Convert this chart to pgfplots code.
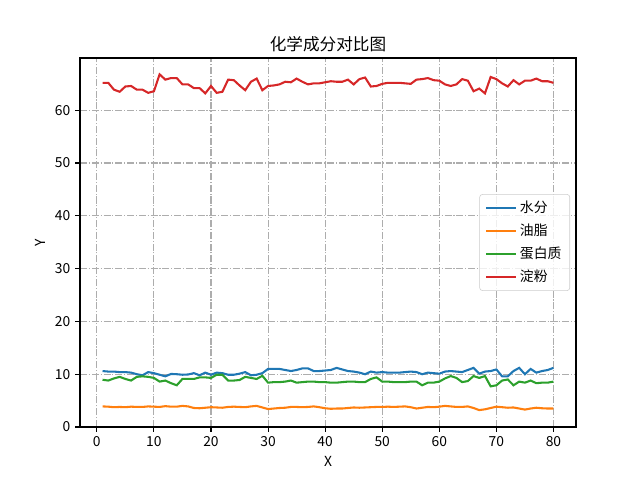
\documentclass[border=0pt]{standalone}
\usepackage{fontspec}
\setmainfont{Noto Sans CJK SC}
\usepackage{pgfplots}
\pgfplotsset{compat=1.18}
\usepackage{pgfplotstable}

\definecolor{c0}{HTML}{1F77B4}
\definecolor{c1}{HTML}{FF7F0E}
\definecolor{c2}{HTML}{2CA02C}
\definecolor{c3}{HTML}{D62728}

\pgfplotstableread{
x water fat protein starch
1 10.6 3.90 8.95 65.2
2 10.5 3.85 8.8 65.2
3 10.5 3.75 9.2 63.9
4 10.4 3.80 9.5 63.5
5 10.4 3.75 9.1 64.5
6 10.3 3.85 8.8 64.6
7 10.0 3.80 9.5 63.9
8 9.8 3.80 9.6 63.9
9 10.4 3.90 9.5 63.3
10 10.2 3.85 9.3 63.6
11 9.9 3.80 8.6 66.8
12 9.6 3.95 8.8 65.8
13 10.05 3.85 8.3 66.1
14 10.0 3.85 7.9 66.1
15 9.9 4.00 9.1 64.9
16 9.95 3.90 9.1 64.9
17 10.2 3.60 9.1 64.2
18 9.8 3.55 9.4 64.2
19 10.3 3.65 9.4 63.2
20 9.9 3.75 9.3 64.6
21 10.3 3.70 9.9 63.3
22 10.2 3.65 9.9 63.5
23 9.9 3.80 8.8 65.8
24 9.9 3.85 8.8 65.7
25 10.1 3.80 8.9 64.7
26 10.4 3.75 9.5 63.8
27 9.8 3.90 9.3 65.4
28 9.9 4.00 9.1 66.0
29 10.2 3.70 9.7 63.8
30 11.0 3.40 8.4 64.6
31 11.0 3.50 8.5 64.7
32 11.0 3.60 8.5 64.9
33 10.8 3.65 8.6 65.4
34 10.6 3.80 8.8 65.3
35 10.8 3.80 8.4 66.0
36 11.1 3.75 8.5 65.4
37 11.1 3.80 8.6 64.9
38 10.6 3.90 8.6 65.1
39 10.6 3.75 8.5 65.1
40 10.7 3.55 8.5 65.3
41 10.8 3.45 8.4 65.5
42 11.2 3.50 8.4 65.4
43 10.9 3.50 8.5 65.4
44 10.6 3.60 8.6 65.8
45 10.5 3.70 8.6 64.9
46 10.3 3.65 8.5 65.9
47 10.0 3.70 8.5 66.2
48 10.5 3.75 9.1 64.5
49 10.3 3.80 9.4 64.6
50 10.4 3.80 8.6 65.0
51 10.3 3.85 8.6 65.2
52 10.3 3.80 8.5 65.2
53 10.3 3.85 8.5 65.2
54 10.4 3.90 8.5 65.1
55 10.5 3.75 8.6 65.0
56 10.4 3.50 8.6 65.8
57 10.0 3.65 7.9 65.9
58 10.3 3.80 8.4 66.1
59 10.2 3.75 8.4 65.7
60 10.1 3.85 8.6 65.6
61 10.5 4.00 9.2 64.9
62 10.6 3.90 9.65 64.6
63 10.5 3.80 9.3 64.9
64 10.4 3.80 8.5 65.9
65 10.8 3.90 8.7 65.6
66 11.2 3.60 9.65 63.6
67 10.1 3.20 9.3 64.1
68 10.5 3.35 9.65 63.2
69 10.6 3.60 7.7 66.3
70 10.9 3.85 7.9 65.9
71 9.6 3.75 8.8 65.1
72 9.6 3.65 9.0 64.5
73 10.6 3.70 7.9 65.7
74 11.2 3.50 8.6 64.9
75 10.0 3.30 8.4 65.6
76 11.0 3.50 8.8 65.6
77 10.3 3.65 8.3 66.0
78 10.6 3.55 8.4 65.5
79 10.8 3.50 8.4 65.5
80 11.2 3.50 8.6 65.2
}\chem

\begin{document}
\begin{tikzpicture}
\begin{axis}[
  width=4.96in, height=3.69in,
  scale only axis,
  xmin=-2.95, xmax=83.95,
  ymin=0, ymax=69.9,
  xtick={0,10,...,80},
  ytick={0,10,...,60},
  tick align=outside,
  tick pos=left,
  major tick length=3.5pt,
  every tick/.style={black, line width=0.8pt},
  axis line style={line width=0.8pt},
  /pgf/number format/assume math mode=true,
  tick label style={font=\fontsize{10}{12}\selectfont},
  label style={font=\fontsize{10}{12}\selectfont},
  xlabel={X}, ylabel={Y},
  title={化学成分对比图},
  title style={font=\fontsize{12}{14}\selectfont, yshift=-5pt},
  grid=major,
  major grid style={color=black!32, line width=0.8pt, dash pattern=on 5.1pt off 1.3pt on 0.8pt off 1.3pt},
  legend style={at={(0.988,0.5)}, anchor=east, draw=black!20, rounded corners=2pt,
    fill=white, fill opacity=0.8, text opacity=1,
    font=\fontsize{10}{12}\selectfont, row sep=2.6pt, inner xsep=4pt, inner ysep=3pt,
    /tikz/every even column/.append style={column sep=4pt}},
  legend cell align=left,
  legend image code/.code={\draw[#1] (0cm,0cm) -- (0.76cm,0cm);},
]
\addplot[c0, line width=1.5pt] table[x=x, y=water] {\chem};
\addlegendentry{水分}
\addplot[c1, line width=1.5pt] table[x=x, y=fat] {\chem};
\addlegendentry{油脂}
\addplot[c2, line width=1.5pt] table[x=x, y=protein] {\chem};
\addlegendentry{蛋白质}
\addplot[c3, line width=1.5pt] table[x=x, y=starch] {\chem};
\addlegendentry{淀粉}
\end{axis}
\pgfresetboundingbox
\path[use as bounding box] ([xshift=-0.80in,yshift=-0.53in]current axis.south west) rectangle ([xshift=0.64in,yshift=0.58in]current axis.north east);
\end{tikzpicture}
\end{document}
